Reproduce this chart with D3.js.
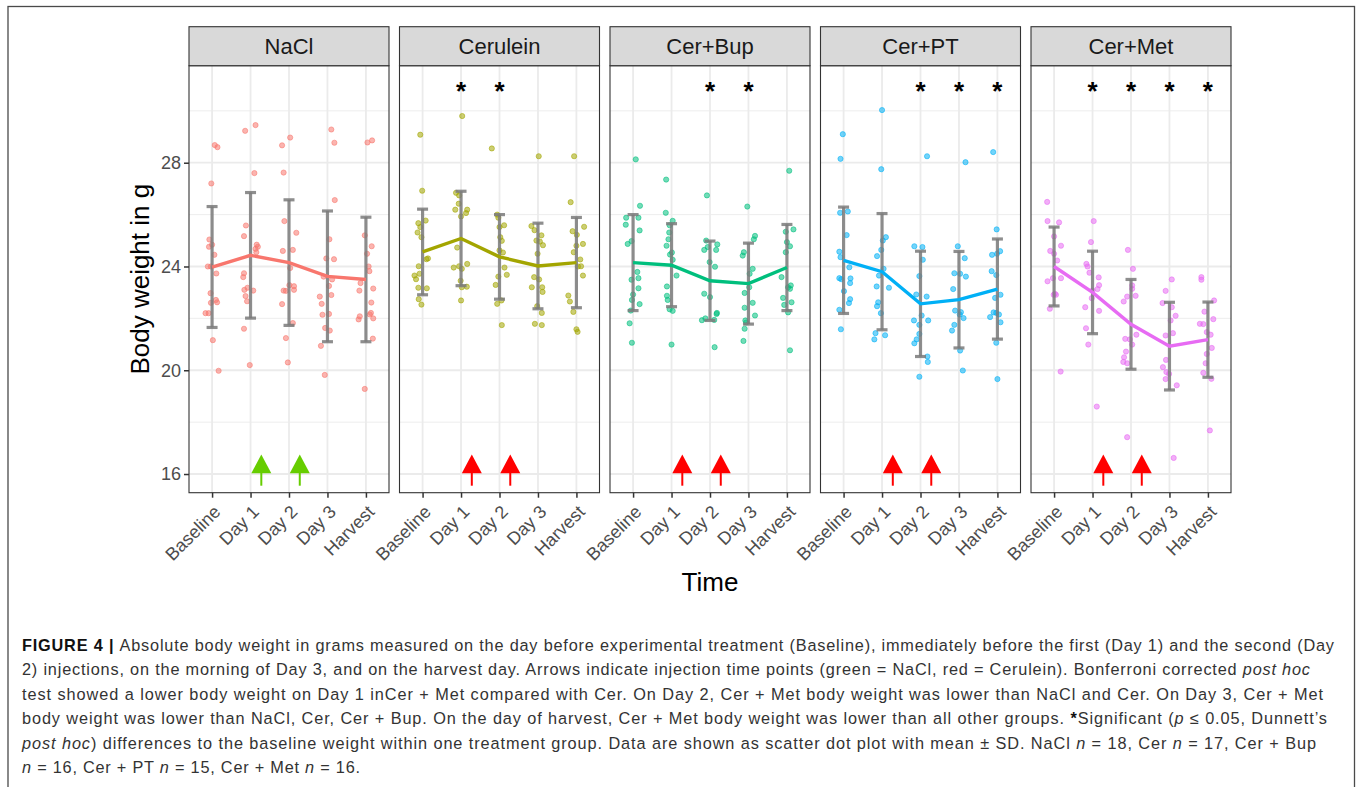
<!DOCTYPE html>
<html>
<head>
<meta charset="utf-8">
<script src="https://cdn.jsdelivr.net/npm/d3@7"></script>
<style>
body { margin: 0; background: #fff; }
svg text { font-family: "Liberation Sans", Arial, sans-serif; }
</style>
</head>
<body>
<div id="chart"></div>
<script>
"use strict"

var groups = ["NaCl", "Cerulein", "Cer+Bup", "Cer+PT", "Cer+Met"];
var times = ["Baseline", "Day 1", "Day 2", "Day 3", "Harvest"];
var yTicks = [16, 20, 24, 28];
var yMinor = [18, 22, 26, 30];

// mean and SD for each time point
var naclMean = [23.98, 24.43, 24.15, 23.62, 23.5];
var naclSD = [2.33, 2.42, 2.42, 2.52, 2.4];
var cerMean = [24.56, 25.08, 24.37, 24.02, 24.15];
var cerSD = [1.65, 1.82, 1.63, 1.65, 1.74];
var bupMean = [24.15, 24.05, 23.45, 23.34, 23.96];
var bupSD = [1.85, 1.6, 1.53, 1.56, 1.66];
var ptMean = [24.24, 23.8, 22.56, 22.72, 23.13];
var ptSD = [2.05, 2.24, 2.03, 1.86, 1.93];
var metMean = [24.0, 23.0, 21.77, 20.93, 21.18];
var metSD = [1.52, 1.59, 1.73, 1.69, 1.45];

// single animals: [weight g, jitter in category units], one list per time point
var naclPoints = [
  [[28.68,.07],[28.6,.14],[27.2,-.02],[25.04,-.07],[24.76,-.08],[24.84,0],[24.45,.06],[24.0,-.11],[24.0,-.03],[23.73,.11],[22.97,-.04],[22.6,-.03],[22.71,.10],[22.62,.13],[22.2,-.17],[22.2,-.09],[21.16,.02],[19.98,.17]],
  [[29.23,-.14],[29.45,.13],[27.6,.10],[25.58,-.12],[25.17,-.17],[24.84,.16],[24.68,.13],[24.55,.15],[24.76,.19],[23.74,-.17],[23.59,-.19],[23.1,-.16],[23.07,.07],[23.18,-.08],[22.86,-.13],[22.66,-.09],[21.6,-.17],[20.2,-.02]],
  [[28.67,-.18],[28.97,.03],[27.62,-.14],[25.75,-.12],[25.3,.19],[24.6,-.16],[24.64,.10],[23.94,.03],[23.28,.01],[23.24,.13],[23.1,.13],[23.07,-.14],[23.06,-.08],[22.55,-.18],[21.82,.10],[21.24,-.08],[20.3,-.03]],
  [[29.28,.10],[28.77,.18],[26.56,.19],[25.05,.05],[24.31,-.03],[24.28,.17],[23.61,-.10],[23.5,.12],[23.25,.04],[22.9,.10],[22.84,-.2],[22.56,-.15],[22.14,-.13],[22.17,.04],[21.63,-.06],[21.53,.06],[20.94,-.17],[19.82,-.07]],
  [[28.78,.04],[28.86,.16],[25.2,-.03],[24.78,.15],[24.49,.03],[24.0,.07],[23.82,.09],[23.36,-.14],[23.07,-.17],[23.15,.19],[22.61,.14],[22.21,.13],[22.15,.10],[22.0,.19],[21.96,-.19],[22.08,-.16],[21.22,.18],[19.28,-.03]]
];
var cerPoints = [
  [[29.08,-.06],[26.92,-.01],[25.67,-.11],[25.77,.08],[25.52,-.06],[25.31,-.13],[25.13,-.03],[24.31,.14],[24.28,.10],[24.01,-.10],[23.72,-.08],[23.65,-.21],[23.51,-.17],[23.18,-.11],[23.16,.11],[22.74,-.10],[22.53,-.03]],
  [[29.8,.03],[26.84,-.13],[26.74,-.05],[26.42,-.06],[26.19,-.15],[26.19,.16],[26.06,.13],[25.93,0],[24.73,-.10],[23.96,-.19],[24.01,-.05],[24.1,.16],[23.91,.02],[23.45,-.01],[23.2,.02],[23.22,.15],[22.69,0]],
  [[28.55,-.2],[26.0,-.06],[25.88,-.03],[25.59,.12],[25.52,0],[25.13,.02],[24.99,.06],[24.62,0],[24.54,.09],[23.96,.13],[23.61,-.03],[23.68,.19],[23.29,-.1],[22.69,.05],[22.56,-.06],[21.74,.06]],
  [[28.25,.02],[25.56,-.17],[25.4,-.09],[25.2,.09],[25.0,-.04],[24.96,.05],[24.82,.13],[24.49,-.01],[23.59,-.10],[23.5,.03],[23.2,-.16],[23.2,.11],[23.02,.12],[22.47,-.02],[22.21,.10],[21.79,-.08],[21.74,.10]],
  [[28.25,-.06],[26.48,-.15],[25.36,-.10],[25.22,.01],[25.53,.2],[24.87,.17],[24.8,0],[24.55,-.07],[24.27,.10],[24.01,.12],[24.0,.04],[23.65,.17],[22.88,-.21],[22.65,-.17],[22.25,-.08],[21.58,0],[21.48,.03]]
];
var bupPoints = [
  [[28.13,.07],[26.34,.18],[25.88,-.18],[25.88,.14],[25.61,-.19],[25.39,.17],[24.98,-.04],[24.87,-.14],[23.79,.11],[23.55,.14],[23.49,-.04],[23.16,.14],[22.92,0],[22.71,-.03],[22.55,.17],[22.3,-.06],[21.81,-.09],[21.06,-.03]],
  [[27.35,-.14],[26.07,-.15],[25.76,.03],[25.59,-.05],[25.31,-.06],[25.05,-.08],[24.8,-.13],[24.54,.01],[24.46,-.04],[24.26,.03],[23.65,.13],[23.23,-.12],[22.87,-.12],[22.71,-.1],[22.35,-.05],[22.29,.03],[20.99,0]],
  [[26.74,-.08],[25.0,-.1],[24.64,-.15],[24.85,.19],[24.64,.16],[24.75,-.06],[24.17,-.01],[23.99,.13],[22.95,-.15],[22.82,0],[22.21,.18],[22.17,.17],[21.93,-.21],[22.0,-.12],[21.94,.11],[20.89,.12]],
  [[26.31,-.03],[25.18,.17],[25.05,.14],[24.55,-.12],[24.42,-.15],[23.91,.11],[23.72,.03],[23.2,.02],[22.98,-.1],[22.6,.11],[22.41,-.1],[22.11,.17],[21.92,-.08],[21.84,-.06],[21.6,-.1],[21.13,-.13]],
  [[27.69,.06],[25.43,.17],[25.34,-.03],[24.94,0],[24.78,.08],[24.55,-.03],[23.59,-.14],[23.27,.10],[23.14,.08],[23.2,.03],[22.79,-.10],[22.62,.12],[22.52,-.07],[22.23,.03],[20.77,.08]]
];
var ptPoints = [
  [[29.1,-.02],[28.15,-.08],[26.07,-.09],[26.12,.11],[25.21,.08],[24.57,-.11],[24.36,-.08],[23.97,.15],[23.55,-.11],[23.51,-.06],[23.54,.18],[23.36,.17],[23.05,.01],[22.74,.17],[22.59,.14],[22.33,-.11],[21.58,-.07]],
  [[30.03,0],[27.75,-.02],[25.13,.10],[25.0,.02],[24.64,-.02],[24.4,-.13],[23.91,.04],[23.65,-.08],[23.18,.18],[23.23,-.14],[22.62,-.10],[22.47,-.13],[22.2,-.03],[21.43,-.17],[21.35,.08],[21.19,-.2]],
  [[28.25,.17],[24.78,-.16],[24.75,.05],[24.26,.06],[23.63,-.03],[22.92,-.11],[22.84,.16],[22.11,.03],[21.92,-.17],[21.92,.2],[21.75,-.03],[21.4,-.03],[21.19,-.1],[21.04,-.16],[20.53,.18],[20.32,.19],[19.75,-.03]],
  [[28.02,.17],[24.78,-.03],[24.32,.15],[23.74,-.12],[23.72,.03],[23.61,.18],[23.13,-.15],[22.3,-.1],[22.24,.05],[22.01,.12],[22.15,.02],[21.75,-.12],[21.53,-.18],[20.76,.03],[19.99,.1]],
  [[28.41,-.11],[25.43,-.02],[24.59,.07],[24.45,-.14],[24.49,-.01],[23.82,-.15],[23.67,-.03],[22.91,.08],[22.79,-.06],[22.23,-.1],[22.21,-.03],[22.15,.04],[22.05,-.19],[21.85,.08],[21.06,-.03],[19.66,0]]
];
var metPoints = [
  [[26.49,-.18],[25.75,-.17],[25.7,.13],[25.16,0],[24.8,.18],[24.6,-.1],[24.49,0],[24.23,.08],[23.43,-.17],[23.55,-.03],[23.55,.18],[22.91,-.01],[22.91,.05],[22.95,.02],[22.37,-.11],[19.95,.17]],
  [[25.75,.03],[24.94,-.04],[24.1,-.16],[24.0,-.13],[23.76,-.08],[23.58,.16],[23.28,.17],[23.13,.13],[23.07,0],[22.78,-.02],[22.43,-.19],[22.29,.17],[21.62,-.17],[20.99,-.11],[18.6,.11]],
  [[24.64,-.08],[23.91,.05],[23.27,.03],[23.14,.03],[22.84,-.1],[22.87,.12],[22.65,-.19],[21.37,.14],[21.21,-.15],[21.19,-.03],[20.99,.03],[20.72,-.13],[20.5,-.18],[20.32,-.2],[20.27,-.1],[17.42,-.1]],
  [[23.5,.06],[23.06,-.1],[22.59,-.18],[22.43,.06],[22.1,.16],[21.92,.03],[21.43,.09],[21.34,-.1],[20.4,-.09],[20.12,-.17],[19.93,-.08],[19.66,-.1],[19.86,-.01],[19.42,.19],[16.62,.11]],
  [[23.59,-.17],[23.49,-.17],[22.69,.16],[22.26,-.09],[21.97,.14],[21.79,-.21],[21.78,-.12],[21.47,-.03],[21.37,.07],[20.86,.1],[20.63,-.03],[20.27,-.06],[19.9,-.12],[19.67,.09],[17.68,.05]]
];

// significant vs baseline (Dunnett)
var naclSig = [];
var cerSig = ["Day 1", "Day 2"];
var bupSig = ["Day 2", "Day 3"];
var ptSig = ["Day 2", "Day 3", "Harvest"];
var metSig = ["Day 1", "Day 2", "Day 3", "Harvest"];

// injections given after these time points
var injectionDays = ["Day 1", "Day 2"];

var groupColors = ["#F8766D", "#A3A500", "#00BF7D", "#00B0F6", "#E76BF3"];
var arrowColors = ["#66CD00", "#FF0000", "#FF0000", "#FF0000", "#FF0000"];

var panels = [
  {mean: naclMean, sd: naclSD, pts: naclPoints, sig: naclSig},
  {mean: cerMean, sd: cerSD, pts: cerPoints, sig: cerSig},
  {mean: bupMean, sd: bupSD, pts: bupPoints, sig: bupSig},
  {mean: ptMean, sd: ptSD, pts: ptPoints, sig: ptSig},
  {mean: metMean, sd: metSD, pts: metPoints, sig: metSig}
];

var width = 1357, height = 787;
var svg = d3.select("#chart").append("svg")
  .attr("width", width)
  .attr("height", height);

// page frame
svg.append("rect")
  .attr("x", 8).attr("y", 6.5)
  .attr("width", 1346.5).attr("height", 800)
  .attr("fill", "none").attr("stroke", "#4a4a4a").attr("stroke-width", 1.3);

var panelLeft = 189, panelW = 200, panelGap = 10.5;
var plotTop = 65.7, plotBottom = 492.7, stripTop = 26.7;

var y = d3.scaleLinear()
  .domain([15.28, 31.74])
  .range([plotBottom, plotTop]);

var x = d3.scalePoint()
  .domain(times)
  .range([0, panelW])
  .padding(0.6);
var step = x.step();

panels.forEach(function(p, i) {
  var g = svg.append("g")
    .attr("transform", "translate(" + (panelLeft + i * (panelW + panelGap)) + ",0)");
  var col = groupColors[i];

  // grid
  g.selectAll(".minor").data(yMinor).enter().append("line")
    .attr("x1", 0).attr("x2", panelW)
    .attr("y1", function(d) { return y(d); }).attr("y2", function(d) { return y(d); })
    .attr("stroke", "#ebebeb").attr("stroke-width", 0.9);
  g.selectAll(".major").data(yTicks).enter().append("line")
    .attr("x1", 0).attr("x2", panelW)
    .attr("y1", function(d) { return y(d); }).attr("y2", function(d) { return y(d); })
    .attr("stroke", "#ebebeb").attr("stroke-width", 1.8);
  g.selectAll(".vgrid").data(times).enter().append("line")
    .attr("x1", function(d) { return x(d); }).attr("x2", function(d) { return x(d); })
    .attr("y1", plotTop).attr("y2", plotBottom)
    .attr("stroke", "#ebebeb").attr("stroke-width", 1.8);

  // jittered animals
  times.forEach(function(t, j) {
    g.selectAll(".pt" + j).data(p.pts[j]).enter().append("circle")
      .attr("cx", function(d) { return x(t) + d[1] * step; })
      .attr("cy", function(d) { return y(d[0]); })
      .attr("r", 2.6)
      .attr("fill", col).attr("fill-opacity", 0.55)
      .attr("stroke", col).attr("stroke-opacity", 0.55).attr("stroke-width", 1);
  });

  // mean +- SD
  var eb = g.selectAll(".eb").data(times).enter().append("g")
    .attr("stroke", "#7a7a7a").attr("stroke-opacity", 0.85).attr("stroke-width", 3.2);
  eb.append("line")
    .attr("x1", function(d) { return x(d); }).attr("x2", function(d) { return x(d); })
    .attr("y1", function(d, j) { return y(p.mean[j] - p.sd[j]); })
    .attr("y2", function(d, j) { return y(p.mean[j] + p.sd[j]); });
  [-1, 1].forEach(function(s) {
    eb.append("line")
      .attr("x1", function(d) { return x(d) - 5.5; }).attr("x2", function(d) { return x(d) + 5.5; })
      .attr("y1", function(d, j) { return y(p.mean[j] + s * p.sd[j]); })
      .attr("y2", function(d, j) { return y(p.mean[j] + s * p.sd[j]); });
  });

  g.append("path")
    .datum(p.mean)
    .attr("fill", "none")
    .attr("stroke", col)
    .attr("stroke-width", 3.4)
    .attr("d", d3.line()
      .x(function(d, j) { return x(times[j]); })
      .y(function(d) { return y(d); }));

  // significance stars
  g.selectAll(".star").data(p.sig).enter().append("text")
    .attr("x", function(d) { return x(d); })
    .attr("y", y(31) + 15)
    .attr("text-anchor", "middle")
    .attr("font-size", 26)
    .attr("font-weight", "bold")
    .attr("fill", "#000")
    .text("*");

  // injection arrows
  var ar = g.selectAll(".arrow").data(injectionDays).enter().append("g")
    .attr("fill", arrowColors[i]).attr("stroke", arrowColors[i]);
  ar.append("line")
    .attr("x1", function(d) { return x(d) + 0.28 * step; })
    .attr("x2", function(d) { return x(d) + 0.28 * step; })
    .attr("y1", y(15.55)).attr("y2", y(16.2))
    .attr("stroke-width", 2);
  ar.append("path")
    .attr("stroke", "none")
    .attr("d", function(d) {
      var cx = x(d) + 0.28 * step;
      return "M" + (cx - 10) + "," + y(16.03) + "L" + (cx + 10) + "," + y(16.03) +
        "L" + cx + "," + y(16.75) + "Z";
    });

  // panel frame
  g.append("rect")
    .attr("x", 0).attr("y", plotTop)
    .attr("width", panelW).attr("height", plotBottom - plotTop)
    .attr("fill", "none").attr("stroke", "#333").attr("stroke-width", 1.1);

  // strip
  g.append("rect")
    .attr("x", 0).attr("y", stripTop)
    .attr("width", panelW).attr("height", plotTop - stripTop)
    .attr("fill", "#d9d9d9").attr("stroke", "#333").attr("stroke-width", 1.1);
  g.append("text")
    .attr("x", panelW / 2).attr("y", (stripTop + plotTop) / 2 + 8)
    .attr("text-anchor", "middle")
    .attr("font-size", 22).attr("fill", "#1a1a1a")
    .text(groups[i]);

  // x axis
  var xa = g.append("g")
    .attr("transform", "translate(0," + plotBottom + ")")
    .call(d3.axisBottom(x).tickSize(5).tickSizeOuter(0));
  xa.select(".domain").remove();
  xa.selectAll("line").attr("stroke", "#333").attr("stroke-width", 1.5);
  xa.selectAll("text")
    .attr("x", 0).attr("y", 0).attr("dy", 0)
    .attr("transform", "translate(9,20.3) rotate(-45)")
    .attr("text-anchor", "end")
    .attr("font-size", 18).attr("fill", "#4d4d4d")
    .attr("font-family", "Liberation Sans, Arial, sans-serif");

  if (i === 0) {
    var ya = g.append("g")
      .call(d3.axisLeft(y).tickValues(yTicks).tickSize(5).tickPadding(3));
    ya.select(".domain").remove();
    ya.selectAll("line").attr("stroke", "#333").attr("stroke-width", 1.5);
    ya.selectAll("text")
      .attr("font-size", 18).attr("fill", "#4d4d4d")
      .attr("font-family", "Liberation Sans, Arial, sans-serif");
  }
});

// axis titles
svg.append("text")
  .attr("x", panelLeft + (5 * panelW + 4 * panelGap) / 2)
  .attr("y", 590.5)
  .attr("text-anchor", "middle")
  .attr("font-size", 26)
  .text("Time");
svg.append("text")
  .attr("transform", "translate(149," + (plotTop + plotBottom) / 2 + ") rotate(-90)")
  .attr("text-anchor", "middle")
  .attr("font-size", 26)
  .text("Body weight in g");

// caption
var captionLines = [
  [["FIGURE 4 | ", "b"], ["Absolute body weight in grams measured on the day before experimental treatment (Baseline), immediately before the first (Day 1) and the second (Day", ""]],
  [["2) injections, on the morning of Day 3, and on the harvest day. Arrows indicate injection time points (green = NaCl, red = Cerulein). Bonferroni corrected ", ""], ["post hoc", "i"]],
  [["test showed a lower body weight on Day 1 inCer + Met compared with Cer. On Day 2, Cer + Met body weight was lower than NaCl and Cer. On Day 3, Cer + Met", ""]],
  [["body weight was lower than NaCl, Cer, Cer + Bup. On the day of harvest, Cer + Met body weight was lower than all other groups. ", ""], ["*", "b"], ["Significant (", ""], ["p", "i"], [" \u2264 0.05, Dunnett\u2019s", ""]],
  [["post hoc", "i"], [") differences to the baseline weight within one treatment group. Data are shown as scatter dot plot with mean \u00b1 SD. NaCl ", ""], ["n", "i"], [" = 18, Cer ", ""], ["n", "i"], [" = 17, Cer + Bup", ""]],
  [["n", "i"], [" = 16, Cer + PT ", ""], ["n", "i"], [" = 15, Cer + Met ", ""], ["n", "i"], [" = 16.", ""]]
];
var captionEnds = [1334, 1310, 1323, 1327, 1316, 360];

captionLines.forEach(function(line, k) {
  var t = svg.append("text")
    .attr("x", 22)
    .attr("y", 650.5 + k * 24.5)
    .attr("font-size", 16.3)
    .attr("fill", "#333")
    .attr("textLength", captionEnds[k] - 22)
    .attr("lengthAdjust", "spacing")
    .style("font-family", "'Liberation Sans Narrow', 'Liberation Sans', Arial, sans-serif");
  line.forEach(function(seg) {
    t.append("tspan")
      .attr("font-weight", seg[1] === "b" ? "bold" : null)
      .attr("font-style", seg[1] === "i" ? "italic" : null)
      .attr("fill", seg[1] === "b" ? "#111" : null)
      .text(seg[0]);
  });
});
</script>
</body>
</html>
